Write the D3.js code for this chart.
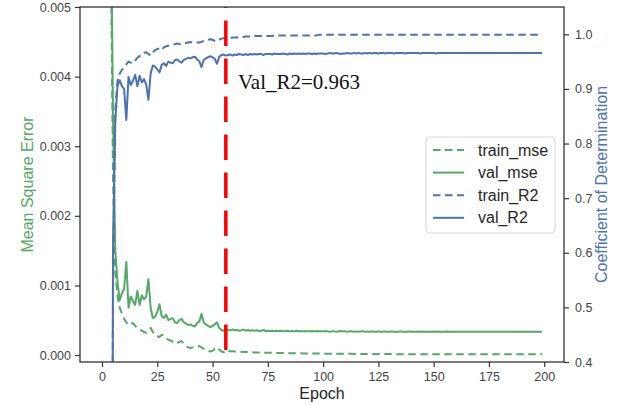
<!DOCTYPE html>
<html>
<head>
<meta charset="utf-8">
<script src="https://cdn.jsdelivr.net/npm/d3@7"></script>
<style>
  html, body { margin: 0; padding: 0; background: #fff; }
  svg { display: block; font-family: "Liberation Sans", Arial, sans-serif; }
</style>
</head>
<body>
<svg id="chart" width="623" height="405"></svg>
<script>

// mse values are in units of 1e-3, one value per epoch (0..199)
var trainMse = [
  50, 25, 14, 8.5, 5.8, 2.5, 1.2, 0.85, 0.68, 0.6,
  0.52, 0.47, 0.43, 0.45, 0.46, 0.42, 0.39, 0.37, 0.35, 0.33,
  0.32, 0.35, 0.39, 0.33, 0.29, 0.27, 0.26, 0.29, 0.28, 0.24,
  0.22, 0.21, 0.19, 0.17, 0.17, 0.19, 0.2, 0.16, 0.13, 0.11,
  0.1, 0.11, 0.12, 0.12, 0.13, 0.11, 0.09, 0.08, 0.065, 0.05,
  0.06, 0.09, 0.11, 0.08, 0.05, 0.04, 0.07, 0.06, 0.055, 0.055,
  0.05, 0.05, 0.048, 0.046, 0.045, 0.043, 0.042, 0.04, 0.04, 0.038,
  0.037, 0.036, 0.035, 0.034, 0.033, 0.033, 0.032, 0.031, 0.03, 0.03,
  0.029, 0.029, 0.028, 0.027, 0.027, 0.026, 0.026, 0.025, 0.025, 0.024,
  0.024, 0.023, 0.023, 0.023, 0.022, 0.022, 0.021, 0.021, 0.021, 0.02,
  0.02, 0.02, 0.02, 0.019, 0.019, 0.019, 0.018, 0.018, 0.018, 0.018,
  0.017, 0.017, 0.017, 0.017, 0.016, 0.016, 0.016, 0.016, 0.016, 0.015,
  0.015, 0.015, 0.015, 0.015, 0.015, 0.014, 0.014, 0.014, 0.014, 0.014,
  0.014, 0.014, 0.013, 0.013, 0.013, 0.013, 0.013, 0.013, 0.013, 0.013,
  0.013, 0.012, 0.012, 0.012, 0.012, 0.012, 0.012, 0.012, 0.012, 0.012,
  0.012, 0.012, 0.011, 0.011, 0.011, 0.011, 0.011, 0.011, 0.011, 0.011,
  0.011, 0.011, 0.011, 0.011, 0.011, 0.011, 0.011, 0.01, 0.01, 0.01,
  0.01, 0.01, 0.01, 0.01, 0.01, 0.01, 0.01, 0.01, 0.01, 0.01,
  0.01, 0.01, 0.01, 0.01, 0.01, 0.01, 0.01, 0.01, 0.01, 0.01,
  0.01, 0.01, 0.01, 0.01, 0.01, 0.01, 0.01, 0.01, 0.01, 0.01
];

var valMse = [
  60, 30, 18, 11, 6.5, 3.4, 1.5, 1.05, 0.79, 0.88,
  0.95, 1.34, 0.68, 0.84, 0.78, 0.72, 0.92, 0.72, 0.86, 0.8,
  0.84, 1.09, 0.68, 0.53, 0.55, 0.62, 0.73, 0.56, 0.53, 0.58,
  0.5, 0.52, 0.53, 0.47, 0.46, 0.5, 0.52, 0.47, 0.45, 0.43,
  0.44, 0.42, 0.41, 0.46, 0.48, 0.59, 0.47, 0.44, 0.42, 0.4,
  0.42, 0.44, 0.47, 0.39, 0.36, 0.35, 0.37, 0.36, 0.355, 0.37,
  0.355, 0.36, 0.35, 0.355, 0.365, 0.35, 0.36, 0.35, 0.355, 0.35,
  0.355, 0.345, 0.35, 0.36, 0.345, 0.35, 0.345, 0.35, 0.34, 0.35,
  0.345, 0.35, 0.34, 0.345, 0.35, 0.34, 0.345, 0.34, 0.35, 0.34,
  0.345, 0.34, 0.345, 0.34, 0.34, 0.345, 0.34, 0.345, 0.34, 0.34,
  0.34, 0.345, 0.34, 0.335, 0.34, 0.34, 0.335, 0.34, 0.345, 0.34,
  0.34, 0.335, 0.34, 0.34, 0.335, 0.34, 0.335, 0.34, 0.34, 0.335,
  0.34, 0.335, 0.34, 0.335, 0.335, 0.34, 0.335, 0.335, 0.34, 0.335,
  0.335, 0.34, 0.335, 0.335, 0.335, 0.34, 0.335, 0.335, 0.335, 0.34,
  0.335, 0.335, 0.335, 0.338, 0.335, 0.335, 0.335, 0.335, 0.335, 0.335,
  0.335, 0.338, 0.335, 0.335, 0.335, 0.335, 0.337, 0.335, 0.335, 0.335,
  0.335, 0.335, 0.336, 0.335, 0.335, 0.335, 0.335, 0.336, 0.335, 0.335,
  0.335, 0.335, 0.335, 0.336, 0.335, 0.335, 0.335, 0.335, 0.335, 0.335,
  0.335, 0.336, 0.335, 0.335, 0.335, 0.335, 0.335, 0.335, 0.336, 0.335,
  0.335, 0.335, 0.335, 0.335, 0.335, 0.336, 0.335, 0.335, 0.335, 0.335
];

var trainR2 = [
  -25, -10, -4, -1.5, -0.5, 0.55, 0.86, 0.915, 0.928, 0.935,
  0.94, 0.945, 0.95, 0.948, 0.947, 0.952, 0.957, 0.96, 0.963, 0.966,
  0.967, 0.964, 0.961, 0.967, 0.971, 0.973, 0.974, 0.971, 0.976, 0.978,
  0.979, 0.98, 0.981, 0.982, 0.983, 0.982, 0.981, 0.983, 0.984, 0.985,
  0.986, 0.985, 0.984, 0.985, 0.985, 0.986, 0.988, 0.989, 0.99, 0.991,
  0.99, 0.988, 0.987, 0.99, 0.992, 0.993, 0.992, 0.993, 0.993, 0.994,
  0.994, 0.994, 0.995, 0.995, 0.995, 0.996, 0.996, 0.996, 0.996, 0.997,
  0.997, 0.997, 0.997, 0.997, 0.997, 0.997, 0.997, 0.997, 0.998, 0.998,
  0.998, 0.998, 0.998, 0.998, 0.998, 0.998, 0.998, 0.998, 0.998, 0.998,
  0.998, 0.998, 0.998, 0.998, 0.998, 0.998, 0.998, 0.998, 0.999, 0.999,
  0.999, 0.999, 0.999, 0.999, 0.999, 0.999, 0.999, 0.999, 0.999, 0.999,
  0.999, 0.999, 0.999, 0.999, 0.999, 0.999, 0.999, 0.999, 0.999, 0.999,
  0.999, 0.999, 0.999, 0.999, 0.999, 0.999, 0.999, 0.999, 0.999, 0.999,
  0.999, 0.999, 0.999, 0.999, 0.999, 0.999, 0.999, 0.999, 0.999, 0.999,
  0.999, 0.999, 0.999, 0.999, 0.999, 0.999, 0.999, 0.999, 0.999, 0.999,
  0.999, 0.999, 0.999, 0.999, 0.999, 0.999, 0.999, 0.999, 0.999, 0.999,
  0.999, 0.999, 0.999, 0.999, 0.999, 0.999, 0.999, 0.999, 0.999, 0.999,
  0.999, 0.999, 0.999, 0.999, 0.999, 0.999, 0.999, 0.999, 0.999, 0.999,
  0.999, 0.999, 0.999, 0.999, 0.999, 0.999, 0.999, 0.999, 0.999, 0.999,
  0.999, 0.999, 0.999, 0.999, 0.999, 0.999, 0.999, 0.999, 0.999, 0.999
];

var valR2 = [
  -30, -12, -5, -2, -0.8, 0.62, 0.84, 0.905, 0.916, 0.905,
  0.9, 0.843, 0.922, 0.907, 0.915, 0.926, 0.905, 0.924, 0.912, 0.918,
  0.908, 0.88, 0.928, 0.943, 0.941, 0.936, 0.93, 0.944, 0.947, 0.942,
  0.95, 0.948, 0.947, 0.953, 0.954, 0.95, 0.948, 0.953, 0.955, 0.957,
  0.956, 0.958, 0.959, 0.954, 0.951, 0.94, 0.953, 0.956, 0.958, 0.96,
  0.958, 0.955, 0.946, 0.959, 0.962, 0.963, 0.961, 0.962, 0.963, 0.961,
  0.963, 0.962, 0.964, 0.963, 0.962, 0.964, 0.962, 0.964, 0.963, 0.964,
  0.963, 0.964, 0.964, 0.962, 0.964, 0.964, 0.964, 0.963, 0.965, 0.964,
  0.964, 0.964, 0.965, 0.964, 0.963, 0.965, 0.964, 0.965, 0.964, 0.965,
  0.964, 0.965, 0.964, 0.965, 0.965, 0.964, 0.965, 0.964, 0.965, 0.965,
  0.965, 0.964, 0.965, 0.966, 0.965, 0.965, 0.966, 0.965, 0.964, 0.965,
  0.965, 0.966, 0.965, 0.965, 0.966, 0.965, 0.966, 0.965, 0.965, 0.966,
  0.965, 0.966, 0.965, 0.966, 0.966, 0.965, 0.966, 0.966, 0.965, 0.966,
  0.966, 0.966, 0.965, 0.966, 0.966, 0.966, 0.966, 0.965, 0.966, 0.966,
  0.966, 0.966, 0.966, 0.966, 0.965, 0.966, 0.966, 0.966, 0.966, 0.966,
  0.966, 0.965, 0.966, 0.966, 0.966, 0.966, 0.966, 0.966, 0.966, 0.966,
  0.966, 0.966, 0.966, 0.966, 0.966, 0.966, 0.966, 0.966, 0.966, 0.966,
  0.966, 0.966, 0.966, 0.966, 0.966, 0.966, 0.966, 0.966, 0.966, 0.966,
  0.966, 0.966, 0.966, 0.966, 0.966, 0.966, 0.966, 0.966, 0.966, 0.966,
  0.966, 0.966, 0.966, 0.966, 0.966, 0.966, 0.966, 0.966, 0.966, 0.966
];

var epochTicks = [0, 25, 50, 75, 100, 125, 150, 175, 200];
var mseTicks   = [0, 1, 2, 3, 4, 5];            // x 1e-3
var r2Ticks    = [0.4, 0.5, 0.6, 0.7, 0.8, 0.9, 1.0];
var bestEpoch  = 56;
var bestValR2  = 0.963;

var green = "#55a868"
  , blue  = "#4c72b0"
  , ink   = "#333"
  , box   = { left: 80, top: 7, right: 564, bottom: 362 };

var svg = d3.select("#chart");

var x = d3.scaleLinear().domain([-9.95, 208.95]).range([box.left, box.right])
  , yMse = d3.scaleLinear().domain([-0.1, 5]).range([box.bottom, box.top])
  , yR2 = d3.scaleLinear().domain([0.4, 1.05]).range([box.bottom, box.top]);

svg.append("defs").append("clipPath").attr("id", "plotclip")
  .append("rect")
    .attr("x", box.left).attr("y", box.top)
    .attr("width", box.right - box.left).attr("height", box.bottom - box.top);

// axes
function styleAxis(g) {
  g.select(".domain").remove();
  g.selectAll(".tick line").attr("stroke", ink).attr("stroke-width", 1.2);
  g.selectAll(".tick text").attr("fill", "#444").style("font-size", "12.5px");
}

svg.append("g")
  .attr("transform", "translate(0," + box.bottom + ")")
  .call(d3.axisBottom(x).tickValues(epochTicks).tickSize(5).tickPadding(5))
  .call(styleAxis);

svg.append("g")
  .attr("transform", "translate(" + box.left + ",0)")
  .call(d3.axisLeft(yMse).tickValues(mseTicks).tickSize(5).tickPadding(4)
    .tickFormat(function (d) { return d3.format(".3f")(d / 1000); }))
  .call(styleAxis);

svg.append("g")
  .attr("transform", "translate(" + box.right + ",0)")
  .call(d3.axisRight(yR2).tickValues(r2Ticks).tickSize(5).tickPadding(6)
    .tickFormat(d3.format(".1f")))
  .call(styleAxis);

// lines
var plot = svg.append("g").attr("clip-path", "url(#plotclip)");

function drawSeries(values, y, color, dashed) {
  var line = d3.line()
    .x(function (d, i) { return x(i); })
    .y(function (d) { return y(d); });
  plot.append("path")
    .datum(values)
    .attr("d", line)
    .attr("fill", "none")
    .attr("stroke", color)
    .attr("stroke-width", 2)
    .attr("stroke-linejoin", "round")
    .attr("stroke-dasharray", dashed ? "7.5,4.5" : null);
}

drawSeries(trainMse, yMse, green, true);
drawSeries(valMse, yMse, green, false);
drawSeries(trainR2, yR2, blue, true);
drawSeries(valR2, yR2, blue, false);

// best epoch marker
svg.append("line")
  .attr("x1", x(bestEpoch)).attr("x2", x(bestEpoch))
  .attr("y1", yMse(0)).attr("y2", yMse(5))
  .attr("stroke", "#ff0000")
  .attr("stroke-width", 3.5)
  .attr("stroke-dasharray", "25.5,12.5")
  .attr("stroke-dashoffset", 33);

svg.append("text")
  .attr("x", 238).attr("y", 88.5)
  .style("font-family", "'Liberation Serif', 'Times New Roman', serif")
  .style("font-size", "21px")
  .attr("fill", "#111")
  .text("Val_R2=" + bestValR2);

// frame
svg.append("rect")
  .attr("x", box.left).attr("y", box.top)
  .attr("width", box.right - box.left).attr("height", box.bottom - box.top)
  .attr("fill", "none")
  .attr("stroke", ink)
  .attr("stroke-width", 1.3);

// axis titles
svg.append("text")
  .attr("transform", "translate(33," + (box.top + box.bottom) / 2 + ") rotate(-90)")
  .attr("text-anchor", "middle")
  .style("font-size", "16px")
  .attr("fill", green)
  .text("Mean Square Error");

svg.append("text")
  .attr("transform", "translate(607," + (box.top + box.bottom) / 2 + ") rotate(-90)")
  .attr("text-anchor", "middle")
  .style("font-size", "16px")
  .attr("fill", blue)
  .text("Coefficient of Determination");

svg.append("text")
  .attr("x", (box.left + box.right) / 2).attr("y", 399)
  .attr("text-anchor", "middle")
  .style("font-size", "16px")
  .attr("fill", "#262626")
  .text("Epoch");

// legend
var legendItems = [
  { name: "train_mse", color: green, dashed: true },
  { name: "val_mse",   color: green, dashed: false },
  { name: "train_R2",  color: blue,  dashed: true },
  { name: "val_R2",    color: blue,  dashed: false }
];

var legend = svg.append("g").attr("transform", "translate(426,137)");

legend.append("rect")
  .attr("width", 129).attr("height", 96)
  .attr("rx", 4)
  .attr("fill", "#fff").attr("fill-opacity", 0.85)
  .attr("stroke", "#d6d6d6");

var rows = legend.selectAll("g.row")
  .data(legendItems)
  .enter().append("g")
    .attr("class", "row")
    .attr("transform", function (d, i) { return "translate(0," + (13 + i * 22.6) + ")"; });

rows.append("line")
  .attr("x1", 7).attr("x2", 38)
  .attr("stroke", function (d) { return d.color; })
  .attr("stroke-width", 2)
  .attr("stroke-dasharray", function (d) { return d.dashed ? "7.5,4.5" : null; });

rows.append("text")
  .attr("x", 52).attr("dy", "0.35em")
  .style("font-size", "16px")
  .attr("fill", "#262626")
  .text(function (d) { return d.name; });

</script>
</body>
</html>
